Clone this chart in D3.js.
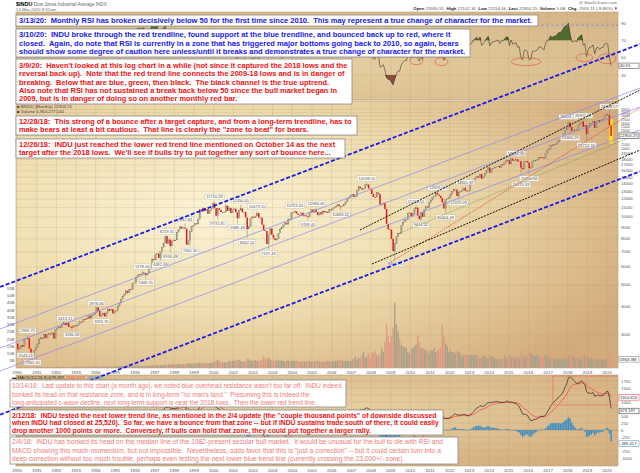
<!DOCTYPE html>
<html><head><meta charset="utf-8">
<script src="https://cdn.jsdelivr.net/npm/d3@7"></script>
<style>
body{margin:0;background:#fff;}
svg{display:block;font-family:"Liberation Sans",Arial,sans-serif;}
text{white-space:pre;}
</style></head><body>
<svg id="c" width="640" height="473" xml:space="preserve"></svg>
<script>
// ---------------- DATA ----------------
const startYear = 1990;
const prevClose = 2753;
const closes = [
2591,2627,2707,2657,2877,2881,2905,2614,2452,2442,2560,2634,
2736,2882,2914,2888,3028,2907,3025,3044,3017,3069,2895,3169,
3223,3268,3235,3359,3397,3319,3394,3257,3272,3226,3305,3301,
3310,3371,3435,3428,3527,3516,3539,3651,3555,3681,3684,3754,
3978,3832,3636,3682,3758,3625,3765,3913,3843,3908,3739,3834,
3844,4011,4158,4321,4465,4556,4708,4611,4789,4755,5074,5117,
5395,5486,5587,5569,5643,5655,5529,5616,5882,6029,6522,6448,
6813,6878,6583,7009,7331,7673,8223,7622,7945,7442,7823,7908,
7907,8546,8800,9063,8900,8952,8883,7539,7843,8592,9117,9181,
9359,9307,9786,10789,10560,10971,10655,10829,10337,10730,10878,11497,
10941,10128,10922,10734,10522,10448,10522,11215,10651,10971,10414,10787,
10887,10495,9879,10735,10912,10502,10523,9950,8848,9075,9852,10022,
9920,10106,10404,9946,9925,9243,8737,8664,7592,8397,8896,8342,
8054,7891,7992,8480,8850,8985,9234,9416,9275,9801,9782,10454,
10488,10584,10358,10226,10188,10435,10140,10174,10080,10027,10428,10783,
10490,10766,10504,10193,10467,10275,10641,10482,10569,10440,10806,10718,
10865,10993,11109,11367,11168,11150,11186,11381,11679,12081,12222,12463,
12622,12269,12354,13063,13628,13409,13212,13358,13896,13930,13372,13265,
12650,12266,12263,12820,12638,11350,11378,11544,10851,9325,8829,8776,
8001,7063,7609,8168,8500,8447,9172,9496,9712,9713,10345,10428,
10067,10325,10857,11009,10137,9774,10466,10015,10788,11118,11006,11578,
11892,12226,12320,12811,12570,12414,12143,11614,10913,11955,12046,12218,
12633,12952,13212,13214,12393,12880,13009,13091,13437,13096,13026,13104,
13861,14054,14579,14840,15116,14910,15500,14810,15130,15546,16086,16577,
15699,16322,16458,16581,16717,16827,16563,17098,17043,17391,17828,17823,
17165,18133,17776,17841,18011,17620,17690,16528,16285,17664,17720,17425,
16466,16517,17685,17774,17787,17930,18432,18401,18308,18142,19124,19763,
19864,20812,20663,20941,21009,21350,21891,21948,22405,23377,24272,24719,
26149,25029,24103,24163,24416,24271,25415,25965,26458,25116,25538,23327,
25000,25916,25929,26593,24815,26600,26864,26403,26917,27046,28051,28538,
28256,25409,22904];
// monthly volume, billions
const volumes = [
0.6,0.5,0.5,0.5,0.6,0.5,0.6,0.7,0.6,0.6,0.5,0.5,
0.7,0.8,0.7,0.7,0.6,0.6,0.6,0.6,0.6,0.7,0.7,0.8,
0.9,0.9,0.8,0.8,0.7,0.7,0.7,0.7,0.7,0.8,0.8,0.8,
0.9,0.9,0.9,0.9,0.9,0.9,0.8,0.9,0.9,1.0,1.0,1.0,
1.1,1.1,1.2,1.0,1.0,1.0,1.0,1.1,1.1,1.1,1.1,1.1,
1.2,1.2,1.3,1.2,1.3,1.4,1.4,1.3,1.3,1.4,1.4,1.5,
1.7,1.7,1.7,1.7,1.6,1.6,1.8,1.5,1.6,1.8,1.8,1.9,
2.1,2.0,2.0,2.1,2.0,2.2,2.2,2.2,2.3,2.8,2.3,2.4,
2.6,2.4,2.6,2.6,2.4,2.5,2.6,3.0,3.2,3.2,2.7,2.9,
3.2,3.0,3.3,3.6,3.2,3.2,3.0,3.1,3.2,3.6,3.4,3.5,
4.5,4.6,5.4,4.6,4.0,4.0,3.8,3.9,4.0,5.0,4.5,4.8,
5.0,4.6,6.0,5.6,5.0,4.6,4.5,4.2,6.5,6.0,5.0,4.8,
5.5,5.2,5.0,5.0,5.0,5.8,8.0,6.0,6.5,7.0,5.6,5.0,
5.2,5.0,5.6,5.0,5.0,5.2,5.0,4.4,5.0,5.2,4.5,4.8,
5.2,4.8,5.2,4.6,4.5,4.2,4.5,4.2,4.4,5.0,4.8,4.5,
4.6,4.6,5.0,5.2,4.6,4.5,4.2,4.4,4.5,5.2,4.6,4.2,
5.0,4.6,5.0,5.0,5.6,5.4,5.0,4.6,4.8,5.2,5.0,4.6,
6,6.5,8,6,7,7,9,11,7,8,10,7,
11,10,12,9,8,10,14,11,18,30,22,18,
22,28,45,30,25,20,16,15,14,14,11,10,
13,14,15,16,22,18,14,14,13,12,12,10,
12,12,14,11,12,13,14,30,22,17,15,11,
12,11,11,10,12,11,10,8,9,9,9,9,
9,9,9,9,9,8,7,7,8,8,7,7,
9,8,8,7,6,6,6,6,7,9,7,8,
9,8,8,7,7,7,7,10,9,8,8,9,
11,10,9,8,8,10,8,7,8,7,9,8,
7,6,7,6,6,7,6,6,6,6,7,6,
8,10,9,8,7,7,7,6,6,9,8,9,
8,6,7,6,7,6,6,7,6,6,5,6,
7,9,6];
const marchHigh = 27102.34, marchLow = 21154.46;
const priceTicks = d3.range(3000, 31000, 1000);
const rsiTicks = [90,70,50,30];
const macdTicks = [1750,1500,1250,1000,750,500,250,0,-250,-500,-750,-1000];
const volTicks = [5,10,15,20,25,30,35,40,45,50,55];
const yearTicks = d3.range(1990, 2021);
// [year, month, price, side: a = above, b = below, bb = further below]
const extremes = [
[1990,1,2543.24,'b'],[1990,7,2999.75,'a'],[1990,10,2365.10,'b'],[1992,6,3413.21,'a'],[1992,10,3136.58,'b'],
[1994,1,3978.36,'a'],[1994,4,3593.35,'b'],[1996,5,5778.00,'a'],[1996,7,5346.55,'b'],[1997,4,6391.69,'b'],
[1997,8,8259.31,'a'],[1997,10,6936.48,'b'],[1998,7,9367.84,'a'],[1998,10,7400.30,'b'],[2000,1,11750.28,'a'],
[2000,3,9731.81,'b'],[2001,5,11350.05,'a'],[2001,3,9389.48,'b'],[2001,9,8062.34,'b'],[2002,3,10673.10,'a'],
[2002,10,7197.49,'b'],[2004,2,10753.63,'a'],[2004,10,9708.40,'b'],[2005,3,10984.46,'a'],
[2006,6,10683.32,'b'],[2007,10,14198.10,'a'],[2009,3,6469.95,'b'],[2010,4,11258.01,'a'],[2010,7,9614.32,'b'],
[2011,5,12876.00,'a'],[2011,10,10404.49,'b'],[2012,10,13661.87,'a'],[2012,6,12035.09,'b'],[2015,5,18351.36,'a'],
[2015,8,15370.33,'bb'],[2016,1,15450.56,'b'],[2018,1,26616.71,'a'],[2018,2,23360.29,'b'],[2018,10,26951.81,'a'],
[2018,12,21712.53,'b'],[2020,2,29568.57,'a']];
// trend lines: [[year, price],[year, price]]
const thickBlueLines = [
 [[1989.14,4895],[2021.68,58430]],
 [[1989.14,1331],[2021.68,15925]]];
const thinBlueLines = [
 [[1989.14,3190],[2021.68,37290]],
 [[1989.14,2627],[2021.68,30720]],
 [[1989.14,2078],[2021.68,24290]]];
const blackLines = [
 [[2007.44,8758],[2021.68,36540]],
 [[2008.05,6190],[2021.68,19815]]];
const redLine = [[2008.9,6225],[2021.68,30430]];
const greenLine = [[2009.475,8494],[2021.68,23560]];
// RSI ellipses [year, rsi, halfYears, halfRsi]
const rsiCircles = [[2010.31,46.5,0.33,4.6],[2011.58,45.4,0.33,4.6],[2015.88,45.4,0.76,4.6],[2018.85,50,0.43,4.6],[2020.0,48.8,0.46,5.8]];
// MACD annotation rectangle [[year,value],[year,value]]
const macdRect = [[2017.25,1928],[2020.66,893]];
const macdLegend = ['MACD(12,26,9) 679.197, ','1164.613, ','-485.417'];
const macdValues = [679.197, 1164.613, -485.417];
const lastPrice = '22904.25';

const notes = [
 {x0:16,y0:15,x1:538,y1:26,tx:19,tw:533,cy:[20.7],color:'#1818e8',bold:true,lines:[
 "3/13/20:  Monthly RSI has broken decisively below 50 for the first time since 2010.  This may represent a true change of character for the market."]},
 {x0:16,y0:29,x1:470,y1:57,tx:19,tw:451,cy:[34.4,42.9,51.4],color:'#1818e8',bold:true,lines:[
 "3/10/20:  INDU broke through the red trendline, found support at the blue trendline, and bounced back up to red, where it",
 "closed.  Again, do note that RSI is currently in a zone that has triggered major bottoms going back to 2010, so again, bears",
 "should show some degree of caution here unless/until it breaks and demonstrates a true change of character for the market."]},
 {x0:16,y0:59,x1:352,y1:104,tx:19,tw:348,cy:[65.2,73.6,82,90.4,98.8],color:'#ee1111',bold:true,lines:[
 "3/9/20:  Haven't looked at this log chart in a while (not since it captured the 2018 lows and the",
 "reversal back up).  Note that the red trend line connects the 2009-18 lows and is in danger of",
 "breaking.  Below that are blue, green, then black.  The black channel is the true uptrend.",
 "Also note that RSI has not sustained a break back below 50 since the bull market began in",
 "2009, but is in danger of doing so on another monthly red bar."]},
 {x0:16,y0:116,x1:357,y1:135,tx:19,tw:352,cy:[121.7,129.4],color:'#ee1111',bold:true,lines:[
 "12/28/18:  This strong of a bounce after a target capture, and from a long-term trendline, has to",
 "make bears at least a bit cautious.  That line is clearly the \"zone to beat\" for bears."]},
 {x0:16,y0:139,x1:345,y1:158,tx:19,tw:336,cy:[144,152.3],color:'#ee1111',bold:true,lines:[
 "12/26/18:  INDU just reached the lower red trend line mentioned on October 14 as the next",
 "target after the 2018 lows.  We'll see if bulls try to put together any sort of bounce here..."]},
 {x0:10,y0:380,x1:346,y1:407,tx:12,tw:342,cy:[386,394.3,402.6],color:'#f07a7a',bold:false,lines:[
 "10/14/18:  Last update to this chart (a month ago), we noted blue overhead resistance wasn't too far off.  INDU indeed",
 "bonked its head on that resistance zone, and is in long-term \"no man's land.\"  Presuming this is indeed the",
 "long-anticipated c-wave decline, next long-term support is near the 2018 lows.  Then the lower red trend line."]},
 {x0:10,y0:410,x1:443,y1:435,tx:12,tw:437,cy:[415.2,423,431],color:'#ee1111',bold:true,lines:[
 "2/12/18:  INDU tested the next lower trend line, as mentioned in the 2/4 update (the ''couple thousand points'' of downside discussed",
 "when INDU had closed at 25,520).  So far, we have a bounce from that zone -- but if INDU sustains trade south of there, it could easily",
 "drop another 1000 points or more.  Conversely, if bulls can hold that zone, they could put together a larger rally."]},
 {x0:10,y0:437,x1:458,y1:464,tx:12,tw:444,cy:[442,450.2,458.4],color:'#f07a7a',bold:false,lines:[
 "2/4/18:  INDU has bonked its head on the median line of the 1982-present secular bull market.  It would be unusual for the bull to die with RSI and",
 "MACD showing this much momentum, but not impossible.  Nevertheless, odds favor that this is \"just a correction\" -- but it could certain turn into a",
 "deep correction without too much trouble, perhaps even testing the next lower blue trend line (currently crossing the 23,000+/- zone)."]}
];

// ---------------- INDICATORS ----------------
const series = [prevClose].concat(closes);
function rsiCalc(c, n){
  const out = new Array(c.length).fill(null); let g=0,l=0;
  for(let i=1;i<c.length;i++){
    const d=c[i]-c[i-1], up=Math.max(d,0), dn=Math.max(-d,0);
    if(i<=n){ g+=up; l+=dn; if(i===n){ g/=n; l/=n; out[i]=100-100/(1+g/l);} }
    else { g=(g*(n-1)+up)/n; l=(l*(n-1)+dn)/n; out[i]=100-100/(1+g/l); }
  }
  return out.slice(1);
}
function ema(a, n){ const k=2/(n+1); const o=[]; a.forEach((v,i)=>o.push(i?v*k+o[i-1]*(1-k):v)); return o; }
const rsi = rsiCalc(series, 14);
const e12 = ema(closes,12), e26 = ema(closes,26);
const macd = closes.map((c,i)=>e12[i]-e26[i]);
const signal = ema(macd, 9);
const hist = macd.map((m,i)=>m-signal[i]);
const opens = closes.map((c,i)=>i?closes[i-1]:prevClose);

// ---------------- SCALES ----------------
const L=16, R=618;
const PR=[12,100], PM=[101,368], PD=[375,466];
const x = d3.scaleLinear().domain([1990,2020]).range([17,607]);
const xm = i => x(startYear + (i+0.5)/12);
const yP = d3.scaleLog().domain([3000,10000]).range([335,217]);
const yR = d3.scaleLinear().domain([30,90]).range([75,23]);
const yM = d3.scaleLinear().domain([0,1750]).range([430,381]);
const yV = d3.scaleLinear().domain([0,50]).range([368,295.5]);
const li = closes.length-1;

const svg = d3.select('#c');
const defs = svg.append('defs');
function radial(id, cx, cy, r, stops){
  const g=defs.append('radialGradient').attr('id',id).attr('cx',cx).attr('cy',cy).attr('r',r);
  stops.forEach(s=>g.append('stop').attr('offset',s[0]).attr('stop-color',s[1]));
}
radial('gR','45%','60%','75%',[[0,'#e6d1a2'],[1,'#d6b688']]);
radial('gM','32%','42%','78%',[[0,'#fbf3d6'],[0.45,'#f0e0b2'],[1,'#d3aa7b']]);
radial('gD','45%','40%','75%',[[0,'#ead6a8'],[1,'#d3ac7e']]);
[['cR',PR],['cM',PM],['cD',PD]].forEach(([id,p])=>defs.append('clipPath').attr('id',id).append('rect').attr('x',L).attr('y',p[0]).attr('width',R-L).attr('height',p[1]-p[0]));

// panels
[[PR,'gR'],[PM,'gM'],[PD,'gD']].forEach(([p,g])=>svg.append('rect').attr('x',L).attr('y',p[0]).attr('width',R-L).attr('height',p[1]-p[0]).attr('fill',`url(#${g})`).attr('stroke','#b9a27a').attr('stroke-width',0.6));

// grids
const grid = svg.append('g').attr('stroke','#b8976a').attr('stroke-opacity',0.45).attr('stroke-width',0.5);
[PR,PM,PD].forEach(p=>grid.selectAll(null).data(yearTicks).join('line').attr('x1',d=>x(d)).attr('x2',d=>x(d)).attr('y1',p[0]).attr('y2',p[1]));
grid.selectAll(null).data(priceTicks).join('line').attr('x1',L).attr('x2',R).attr('y1',d=>yP(d)).attr('y2',d=>yP(d));
grid.selectAll(null).data(rsiTicks).join('line').attr('x1',L).attr('x2',R).attr('y1',d=>yR(d)).attr('y2',d=>yR(d));
grid.selectAll(null).data(macdTicks).join('line').attr('x1',L).attr('x2',R).attr('y1',d=>yM(d)).attr('y2',d=>yM(d));

// right-side value boxes positions (tick labels hidden behind them)
const boxYs = [yR(rsi[li]), yP(+lastPrice), yV(volumes[li]), yM(macdValues[1]), yM(macdValues[0]), yM(macdValues[2])];
const free = yy => boxYs.every(b=>Math.abs(b-yy)>4.2);

// axis labels
const ax = svg.append('g').attr('font-size',4.3).attr('fill','#555');
ax.selectAll(null).data(priceTicks.filter(d=>free(yP(d)))).join('text').attr('x',621).attr('y',d=>yP(d)+1.3)
  .attr('font-size',d=>d>=20000?3.2:4.2).text(d=>d);
ax.selectAll(null).data(rsiTicks.filter(d=>free(yR(d)))).join('text').attr('x',621).attr('y',d=>yR(d)+1.5).text(d=>d);
ax.selectAll(null).data(macdTicks.filter(d=>free(yM(d)))).join('text').attr('x',621).attr('y',d=>yM(d)+1.5).text(d=>d);
ax.selectAll(null).data(volTicks).join('text').attr('x',14.5).attr('text-anchor','end').attr('y',d=>yV(d)+1.5).text(d=>d+'B');
[373.8,471.5].forEach(yy=>ax.selectAll(null).data(yearTicks).join('text').attr('x',d=>x(d)).attr('y',yy).attr('text-anchor','middle').text(d=>d));

// volume
const gM = svg.append('g').attr('clip-path','url(#cM)');
gM.selectAll(null).data(volumes).join('rect').attr('x',(d,i)=>xm(i)-0.7).attr('width',1.4)
 .attr('y',d=>yV(d)).attr('height',d=>yV(0)-yV(d))
 .attr('fill',(d,i)=>closes[i]>=opens[i]?'#a9a18a':'#dc9a84');

// last bar highlight
gM.append('rect').attr('x',xm(li)-1.8).attr('width',3.6).attr('y',yP(marchHigh)).attr('height',yP(marchLow)-yP(marchHigh)).attr('fill','#ffe21a');
// wicks at labelled extremes
gM.selectAll(null).data(extremes).join('line')
 .attr('x1',d=>xm((d[0]-startYear)*12+d[1]-1)).attr('x2',d=>xm((d[0]-startYear)*12+d[1]-1))
 .attr('y1',d=>yP(d[2])).attr('y2',d=>{const i=(d[0]-startYear)*12+d[1]-1; return yP(d[3]==='a'?Math.max(closes[i],opens[i]):Math.min(closes[i],opens[i]));})
 .attr('stroke','#8c8670').attr('stroke-width',0.5);
// candles
gM.selectAll(null).data(closes).join('rect').attr('x',(d,i)=>xm(i)-0.75).attr('width',1.5)
 .attr('y',(d,i)=>yP(Math.max(d,opens[i])))
 .attr('height',(d,i)=>Math.max(0.8,Math.abs(yP(d)-yP(opens[i]))))
 .attr('fill',(d,i)=>d>=opens[i]?'#a39d86':'#e3141b')
 .attr('stroke',(d,i)=>d>=opens[i]?'#7d7864':'none').attr('stroke-width',0.2);

// RSI panel
const gR = svg.append('g').attr('clip-path','url(#cR)');
const rd = rsi.map((v,i)=>[i,v]).filter(d=>d[1]!==null);
gR.append('path').datum(rd).attr('fill','#4f6a2c').attr('d',d3.area().x(d=>xm(d[0])).y0(yR(70)).y1(d=>yR(Math.max(d[1],70))));
gR.append('path').datum(rd).attr('fill','#8c4c36').attr('d',d3.area().x(d=>xm(d[0])).y0(yR(30)).y1(d=>yR(Math.min(d[1],30))));
gR.append('line').attr('x1',L).attr('x2',R).attr('y1',yR(87.5)).attr('y2',yR(87.5)).attr('stroke','#7a7af0').attr('stroke-width',0.7).attr('stroke-dasharray','3,2');
gR.append('path').datum(rd).attr('fill','none').attr('stroke','#3a3a30').attr('stroke-width',0.6).attr('d',d3.line().x(d=>xm(d[0])).y(d=>yR(d[1])));
gR.selectAll(null).data(rsiCircles).join('ellipse').attr('cx',d=>x(d[0])).attr('cy',d=>yR(d[1]))
 .attr('rx',d=>x(d[0]+d[2])-x(d[0])).attr('ry',d=>yR(d[1]-d[3])-yR(d[1])).attr('fill','none').attr('stroke','#e85a4a').attr('stroke-width',0.7);

// MACD panel
const gD = svg.append('g').attr('clip-path','url(#cD)');
gD.selectAll(null).data(hist).join('rect').attr('x',(d,i)=>xm(i)-0.7).attr('width',1.4)
 .attr('y',d=>Math.min(yM(d),yM(0))).attr('height',d=>Math.abs(yM(d)-yM(0))).attr('fill','#3c8ec4');
gD.append('line').attr('x1',L).attr('x2',R).attr('y1',yM(0)).attr('y2',yM(0)).attr('stroke','#888').attr('stroke-width',0.4);
gD.append('path').datum(signal).attr('fill','none').attr('stroke','#ff3b3b').attr('stroke-width',0.7).attr('d',d3.line().x((d,i)=>xm(i)).y(d=>yM(d)));
gD.append('path').datum(macd).attr('fill','none').attr('stroke','#222').attr('stroke-width',0.7).attr('d',d3.line().x((d,i)=>xm(i)).y(d=>yM(d)));
gD.append('rect').attr('x',x(macdRect[0][0])).attr('y',yM(macdRect[0][1])).attr('width',x(macdRect[1][0])-x(macdRect[0][0])).attr('height',yM(macdRect[1][1])-yM(macdRect[0][1]))
 .attr('fill','none').attr('stroke','#e07a6a').attr('stroke-width',0.8);

// value labels on extremes
const lab = svg.append('g').attr('font-size',4).attr('fill','#555');
const offs = {a:-4.2, b:4.2, bb:9.8};
extremes.forEach(d=>{
  const i=(d[0]-startYear)*12+d[1]-1, cy=yP(d[2])+offs[d[3]];
  const t=d[2].toFixed(2), w=t.length*2.15+2;
  const cx=Math.max(xm(i), L+1+w/2);
  lab.append('rect').attr('x',cx-w/2).attr('y',cy-2.6).attr('width',w).attr('height',5.2).attr('fill','#fff').attr('fill-opacity',0.85).attr('stroke','#aaa').attr('stroke-width',0.3);
  lab.append('text').attr('x',cx).attr('y',cy+1.4).attr('text-anchor','middle').text(t);
});

// trend lines
const tl = svg.append('g').attr('fill','none');
const lineGen = d3.line().x(d=>x(d[0])).y(d=>yP(d[1]));
thinBlueLines.forEach(l=>tl.append('path').attr('d',lineGen(l)).attr('stroke','#8888f2').attr('stroke-width',0.7));
tl.append('path').attr('d',lineGen(greenLine)).attr('stroke','#6c9e4a').attr('stroke-width',0.7).attr('stroke-dasharray','1.5,1');
tl.append('path').attr('d',lineGen(redLine)).attr('stroke','#e0322c').attr('stroke-width',0.7).attr('stroke-dasharray','1.5,1');
blackLines.forEach(l=>tl.append('path').attr('d',lineGen(l)).attr('stroke','#111').attr('stroke-width',1).attr('stroke-dasharray','2,1.2'));
thickBlueLines.forEach(l=>tl.append('path').attr('d',lineGen(l)).attr('stroke','#1a1ae8').attr('stroke-width',1.8).attr('stroke-dasharray','4,2'));

// right side value boxes
function vbox(yy, txt, col){
  svg.append('rect').attr('x',619).attr('y',yy-2.8).attr('width',20).attr('height',5.6).attr('fill','#fff').attr('stroke',col).attr('stroke-width',0.5);
  svg.append('text').attr('x',620).attr('y',yy+1.5).attr('font-size',4.2).attr('fill','#333').text(txt);
}
vbox(boxYs[0], rsi[li].toFixed(2), '#333');
vbox(boxYs[1], lastPrice, '#111');
vbox(boxYs[2], '5963.3M', '#777');
vbox(boxYs[3], macdValues[1].toFixed(3), '#ff3b3b');
vbox(boxYs[4], macdValues[0].toFixed(3), '#222');
vbox(boxYs[5], macdValues[2].toFixed(3), '#3c8ec4');

// header
const hd = svg.append('g');
const t1 = hd.append('text').attr('x',16).attr('y',6);
t1.append('tspan').attr('font-weight','bold').attr('font-size',5.5).text('$INDU');
t1.append('tspan').attr('font-size',4.6).attr('fill','#666').text(' Dow Jones Industrial Average INDX');
hd.append('text').attr('x',16).attr('y',11).attr('font-size',4.3).attr('fill','#666').text('13-Mar-2020 9:52am');
hd.append('text').attr('x',617).attr('y',4).attr('text-anchor','end').attr('font-size',4.3).attr('fill','#666').text('@ StockCharts.com');
const t2 = hd.append('text').attr('x',614).attr('y',9.5).attr('text-anchor','end').attr('font-size',4.4).attr('fill','#555');
[['Open',' 25590.51  '],['High',' 27102.34  '],['Low',' 21154.46  '],['Last',' '+lastPrice+'  '],['Volume',' 5.0B  '],['Chg',' -2505.11 (-9.86%) ']].forEach(p=>{
  t2.append('tspan').attr('font-weight','bold').attr('fill','#222').text(p[0]);
  t2.append('tspan').text(p[1]);
});
hd.append('text').attr('x',618).attr('y',9.5).attr('text-anchor','end').attr('font-size',4.4).attr('fill','#e02020').text('▼');
// panel legends
const lg = svg.append('g').attr('font-size',4.3).attr('fill','#444');
lg.append('text').attr('x',17).attr('y',108).text('■ $INDU (Monthly) '+lastPrice);
lg.append('text').attr('x',17).attr('y',113).text('■ Volume 5,963,277,544');
const ml = lg.append('text').attr('x',12).attr('y',378.8);
ml.append('tspan').attr('fill','#222').text('▬ '+macdLegend[0]);
ml.append('tspan').attr('fill','#ff3b3b').text(macdLegend[1]);
ml.append('tspan').attr('fill','#3c8ec4').text(macdLegend[2]);

// annotation boxes
const nb = svg.append('g');
notes.forEach(b=>{
  const g = nb.append('g');
  g.append('rect').attr('x',b.x0).attr('y',b.y0).attr('width',b.x1-b.x0).attr('height',b.y1-b.y0)
   .attr('fill','#fff').attr('stroke','#8a8a8a').attr('stroke-width',0.8);
  const fw = b.bold?'bold':'normal';
  const m = g.append('text').attr('font-size',10).attr('font-weight',fw).text(b.lines[0]);
  const w = m.node().getComputedTextLength(); m.remove();
  const fs = 10*(b.tw-b.tx)/w;
  b.lines.forEach((ln,i)=>g.append('text').attr('x',b.tx).attr('y',b.cy[i]+fs*0.36)
    .attr('font-size',fs).attr('font-weight',fw).attr('fill',b.color).text(ln));
});
</script>
</body></html>
